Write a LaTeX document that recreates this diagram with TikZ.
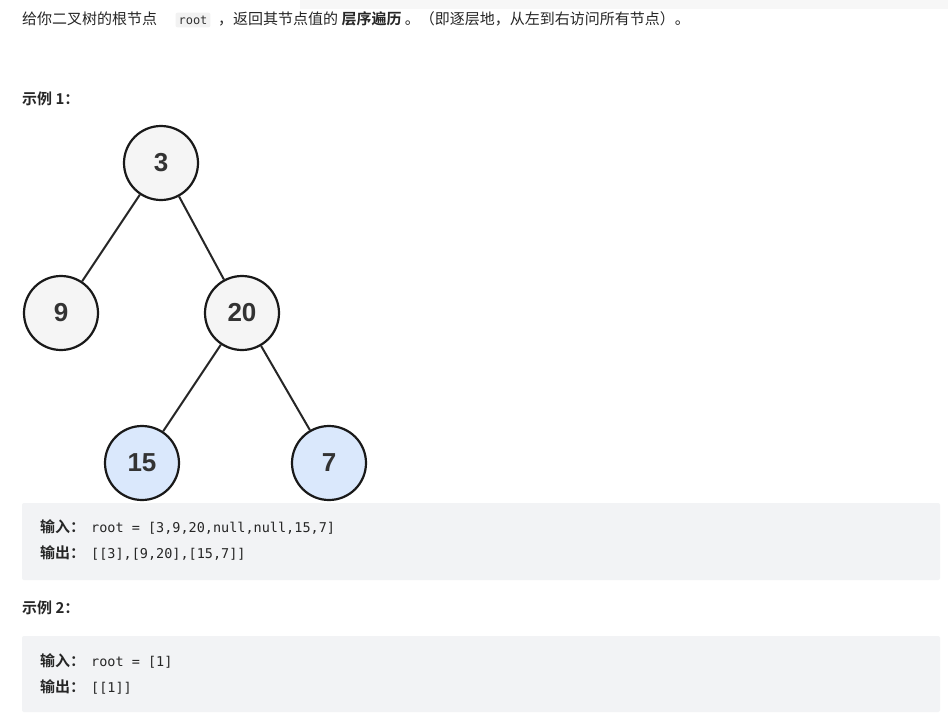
\documentclass[tikz,border=0pt]{standalone}
\usepackage{fontspec}
\setmainfont{Noto Sans CJK SC}
\setsansfont{Liberation Sans}
\setmonofont{DejaVu Sans Mono}
\newfontfamily\cjkb{Noto Sans CJK SC Bold}
\begin{document}
\begin{tikzpicture}[x=1pt,y=-1pt,
  tn/.style={circle,draw=black!90,line width=2.2pt,minimum size=74pt,inner sep=0pt,font=\sffamily\bfseries\fontsize{26}{26}\selectfont,text=black!80},
  gn/.style={tn,fill=black!4},
  bn/.style={tn,fill={rgb,255:red,218;green,232;blue,252}},
  edge/.style={line width=2pt,black!85},
  codebox/.style={fill={rgb,255:red,242;green,243;blue,245},rounded corners=2pt},
  txt/.style={anchor=west,inner sep=0pt,font=\fontsize{15}{15}\selectfont,text=black!85},
  code/.style={anchor=west,inner sep=0pt,font=\ttfamily\fontsize{13.5}{14}\selectfont,text=black!85}]
\useasboundingbox (0,0) rectangle (948,726);
\fill[white] (0,0) rectangle (948,726);
\fill[black!3] (300,0) rectangle (948,9);
\node[txt] (t1) at (22,19) {给你二叉树的根节点};
\node[fill=black!5,rounded corners=2pt,inner sep=3pt,font=\ttfamily\fontsize{12}{12}\selectfont,text=black!80] (rt) at (193,20) {root};
\node[txt] (t2) at (218,19) {，返回其节点值的 {\cjkb 层序遍历} 。（即逐层地，从左到右访问所有节点）。};
\node[txt,font=\cjkb\fontsize{15}{15}\selectfont] (ex1) at (22,99) {示例 1：};
\node[gn] (n3) at (161,163) {3};
\node[gn] (n9) at (61,313) {9};
\node[gn] (n20) at (242,313) {20};
\node[bn] (n15) at (142,463) {15};
\node[bn] (n7) at (329,463) {7};
\draw[edge] (n3) -- (n9);
\draw[edge] (n3) -- (n20);
\draw[edge] (n20) -- (n15);
\draw[edge] (n20) -- (n7);
\fill[codebox] (22,503) rectangle (940,580);
\node[txt,font=\cjkb\fontsize{15}{15}\selectfont] (i1) at (40,527) {输入：};
\node[code] (c1) at (91,528) {root = [3,9,20,null,null,15,7]};
\node[txt,font=\cjkb\fontsize{15}{15}\selectfont] (o1) at (40,553) {输出：};
\node[code] (c2) at (91,554) {[[3],[9,20],[15,7]]};
\node[txt,font=\cjkb\fontsize{15}{15}\selectfont] (ex2) at (22,608) {示例 2：};
\fill[codebox] (22,636) rectangle (940,712);
\node[txt,font=\cjkb\fontsize{15}{15}\selectfont] (i2) at (40,661) {输入：};
\node[code] (c3) at (91,662) {root = [1]};
\node[txt,font=\cjkb\fontsize{15}{15}\selectfont] (o2) at (40,687) {输出：};
\node[code] (c4) at (91,688) {[[1]]};
\end{tikzpicture}
\end{document}
